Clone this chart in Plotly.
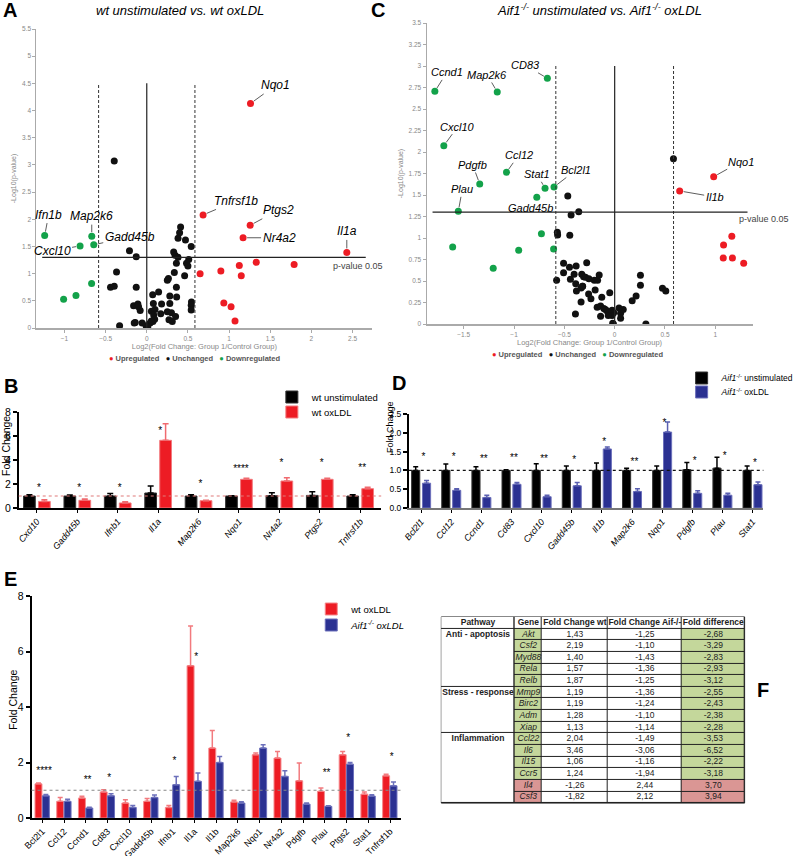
import plotly.graph_objects as go

W, H = 800, 856
FONT = "Arial, 'Liberation Sans', Helvetica, sans-serif"
RED = "#ed1c24"
GREEN = "#13a24a"
BLUE = "#2b3192"
BLACK = "#000000"

# ---------------- Panel A data (volcano wt) ----------------
A_up_genes = ["Nqo1", "Tnfrsf1b", "Ptgs2", "Nr4a2", "Il1a", "", "", "", "", "", "", "", "", ""]
A_up_x = [1.26, 0.684, 1.256, 1.17, 2.43, 0.648, 0.90, 1.124, 1.33, 1.79, 1.148, 0.936, 1.024, 1.072]
A_up_y = [4.13, 2.08, 1.89, 1.66, 1.39, 1.00, 1.05, 1.15, 1.21, 1.17, 0.96, 0.46, 0.39, 0.13]
A_down_genes = ["Ifn1b", "Map2k6", "Cxcl10", "Gadd45b", "", "", ""]
A_down_x = [-1.24, -0.668, -0.81, -0.644, -0.67, -0.86, -1.01]
A_down_y = [1.70, 1.69, 1.51, 1.53, 0.82, 0.60, 0.53]
A_unch_x = [-0.395, 0.411, 0.399, 0.38, 0.47, 0.54, -0.21, -0.128, 0.327, 0.343,
            0.38, 0.51, 0.36, 0.483, 0.50, -0.367, 0.335, 0.46, 0.263, 0.25,
            -0.44, -0.395, -0.128, 0.36, 0.144, 0.072, 0.28, 0.363, -0.16, -0.108,
            -0.10, 0.08, 0.18, 0.28, 0.543, 0.54, 0.54, -0.08, 0.056, 0.10,
            0.25, 0.30, 0.17, 0.084, -0.14, -0.056, 0.04, 0.075, 0.096, 0.056,
            -0.008, 0.012, -0.33, 0.31, 0.27, 0.35, -0.152]
A_unch_y = [3.07, 1.86, 1.75, 1.65, 1.62, 1.50, 1.42, 1.31, 1.40, 1.34,
            1.30, 1.26, 1.19, 1.19, 1.14, 1.03, 1.02, 0.96, 0.91, 0.88,
            0.75, 0.77, 0.75, 0.75, 0.66, 0.61, 0.59, 0.57, 0.41, 0.44,
            0.39, 0.45, 0.44, 0.45, 0.48, 0.42, 0.33, 0.32, 0.31, 0.34,
            0.30, 0.28, 0.26, 0.24, 0.10, 0.09, 0.09, 0.12, 0.16, 0.13,
            0.04, 0.02, 0.04, 0.12, 0.15, 0.21, 0.09]

# ---------------- Panel C data (volcano Aif1-/-) ----------------
C_up_genes = ["Nqo1", "Il1b", "", "", "", "", ""]
C_up_x = [0.984, 0.646, 1.164, 1.082, 1.079, 1.17, 1.282]
C_up_y = [1.713, 1.547, 1.019, 0.919, 0.767, 0.767, 0.705]
C_down_genes = ["Ccnd1", "Map2k6", "CD83", "Cxcl10", "Ccl12", "Pdgfb", "Stat1", "Bcl2l1",
                "Gadd45b", "Plau", "", "", "", "", ""]
C_down_x = [-1.787, -1.167, -0.669, -1.698, -1.075, -1.341, -0.692, -0.603,
            -0.774, -1.554, -0.728, -1.61, -0.954, -0.607, -1.207]
C_down_y = [2.705, 2.698, 2.857, 2.074, 1.764, 1.628, 1.578, 1.593,
            1.473, 1.31, 1.05, 0.895, 0.857, 0.872, 0.647]
C_unch_x = [0.584, -0.466, -0.357, -0.433, -0.57, -0.567, -0.446, -0.577, -0.508, -0.449,
            -0.383, -0.278, -0.508, -0.44, -0.403, -0.327, -0.309, -0.29, -0.256, -0.203,
            -0.17, -0.154, -0.318, -0.38, -0.194, -0.259, -0.236, -0.334, -0.128, -0.049,
            -0.174, -0.14, -0.108, -0.092, -0.075, -0.026, -0.01, -0.026, -0.39, -0.14,
            -0.064, -0.013, 0.059, 0.085, 0.059, 0.174, 0.213, 0.256, 0.256, 0.31,
            0.475, 0.508, -0.387, -0.334, -0.02, 0.043, -0.32]
C_unch_y = [1.922, 1.488, 1.306, 1.267, 1.066, 1.035, 1.031, 0.508, 0.705, 0.66,
            0.674, 0.713, 0.597, 0.52, 0.578, 0.578, 0.55, 0.545, 0.525, 0.51,
            0.51, 0.57, 0.44, 0.384, 0.395, 0.349, 0.294, 0.256, 0.31, 0.364,
            0.194, 0.21, 0.18, 0.17, 0.15, 0.16, 0.13, 0.10, 0.116, 0.09,
            0.10, 0.0, 0.124, 0.17, 0.066, 0.27, 0.326, 0.566, 0.45, 0.0,
            0.415, 0.384, 0.469, 0.419, 0.01, 0.186, 0.44]

PVAL_LINE = 1.3
FC_LINE = 0.585

# ---------------- Panel B data ----------------
B_genes = ["Cxcl10", "Gadd45b", "Ifnb1", "Il1a", "Map2k6", "Nqo1", "Nr4a2", "Ptgs2", "Tnfrsf1b"]
B_unstim = [1.0, 1.0, 1.0, 1.25, 1.0, 1.0, 1.03, 1.05, 1.0]
B_unstim_err = [0.1, 0.08, 0.2, 0.58, 0.1, 0.03, 0.25, 0.31, 0.1]
B_ox = [0.55, 0.64, 0.42, 5.64, 0.61, 2.39, 2.25, 2.39, 1.61]
B_ox_err = [0.13, 0.11, 0.11, 1.39, 0.03, 0.08, 0.28, 0.08, 0.11]
B_sig = ["*", "*", "*", "*", "*", "****", "*", "*", "**"]
B_sig_y = [1.65, 1.65, 1.65, 6.35, 2.0, 3.25, 3.75, 3.75, 3.3]

# ---------------- Panel D data ----------------
D_genes = ["Bcl2l1", "Ccl12", "Ccnd1", "Cd83", "Cxcl10", "Gadd45b", "Il1b", "Map2k6",
           "Nqo1", "Pdgfb", "Plau", "Stat1"]
D_unstim = [1.0, 1.0, 1.0, 1.0, 1.0, 1.0, 1.0, 1.0, 1.0, 1.02, 1.06, 1.0]
D_unstim_err = [0.1, 0.17, 0.1, 0.02, 0.18, 0.12, 0.2, 0.06, 0.12, 0.19, 0.29, 0.12]
D_ox = [0.66, 0.47, 0.28, 0.63, 0.30, 0.59, 1.57, 0.44, 2.02, 0.39, 0.34, 0.62]
D_ox_err = [0.07, 0.04, 0.06, 0.05, 0.04, 0.09, 0.05, 0.07, 0.27, 0.07, 0.05, 0.07]
D_sig = ["*", "*", "**", "**", "**", "*", "*", "**", "*", "*", "*", "*"]
D_sig_y = [1.34, 1.34, 1.29, 1.32, 1.29, 1.27, 1.74, 1.22, 2.25, 1.25, 1.38, 1.18]

# ---------------- Panel E data ----------------
E_genes = ["Bcl2l1", "Ccl12", "Ccnd1", "Cd83", "Cxcl10", "Gadd45b", "Ifnb1", "Il1a", "Il1b",
           "Map2k6", "Nqo1", "Nr4a2", "Pdgfb", "Plau", "Ptgs2", "Stat1", "Tnfrsf1b"]
E_wt = [1.23, 0.6, 0.72, 0.94, 0.54, 0.6, 0.38, 5.49, 2.52, 0.58, 2.28, 2.16, 1.34, 0.96, 2.28, 0.86, 1.52]
E_wt_err = [0.03, 0.14, 0.06, 0.08, 0.12, 0.1, 0.07, 1.43, 0.63, 0.06, 0.06, 0.24, 0.64, 0.12, 0.12, 0.08, 0.06]
E_ko = [0.8, 0.6, 0.36, 0.8, 0.38, 0.74, 1.2, 1.32, 2.0, 0.54, 2.52, 1.5, 0.5, 0.42, 1.94, 0.79, 1.16]
E_ko_err = [0.05, 0.08, 0.03, 0.07, 0.07, 0.09, 0.3, 0.3, 0.22, 0.05, 0.12, 0.2, 0.04, 0.02, 0.06, 0.05, 0.14]
E_sig_genes = ["Bcl2l1", "Ccnd1", "Cd83", "Ifnb1", "Il1a", "Plau", "Ptgs2", "Tnfrsf1b"]
E_sig = ["****", "**", "*", "*", "*", "**", "*", "*"]
E_sig_y = [1.66, 1.36, 1.41, 2.05, 5.77, 1.59, 2.86, 2.19]

# ---------------- Panel F data (table) ----------------
F_header = ["Pathway", "Gene", "Fold Change wt", "Fold Change Aif-/-", "Fold difference"]
F_pathway = ["Anti - apoptosis", "", "", "", "", "Stress - response", "", "", "",
             "Inflammation", "", "", "", "", ""]
F_gene = ["Akt", "Csf2", "Myd88", "Rela", "Relb", "Mmp9", "Birc2", "Adm", "Xiap",
          "Ccl22", "Il6", "Il15", "Ccr5", "Il4", "Csf3"]
F_fc_wt = ["1,43", "2,19", "1,40", "1,57", "1,87", "1,19", "1,19", "1,28", "1,13",
           "2,04", "3,46", "1,06", "1,24", "-1,26", "-1,82"]
F_fc_ko = ["-1,25", "-1,10", "-1,43", "-1,36", "-1,25", "-1,36", "-1,24", "-1,10", "-1,14",
           "-1,49", "-3,06", "-1,16", "-1,94", "2,44", "2,12"]
F_fold_diff = ["-2,68", "-3,29", "-2,83", "-2,93", "-3,12", "-2,55", "-2,43", "-2,38", "-2,28",
               "-3,53", "-6,52", "-2,22", "-3,18", "3,70", "3,94"]
F_col_widths = [75, 28, 67, 76, 64]


def dx(p):
    return p / W


def dy(p):
    return 1 - p / H


fig = go.Figure()
annotations = []
shapes = []


# ---------------- volcano plots ----------------
def add_volcano(xa, ya, up_x, up_y, un_x, un_y, dn_x, dn_y):
    for xs, ys, col in [(un_x, un_y, "#111111"), (up_x, up_y, RED), (dn_x, dn_y, GREEN)]:
        fig.add_trace(go.Scatter(x=xs, y=ys, mode="markers", xaxis=xa, yaxis=ya,
                                 marker=dict(color=col, size=7, line=dict(width=0)),
                                 showlegend=False, hoverinfo="skip"))


add_volcano("x", "y", A_up_x, A_up_y, A_unch_x, A_unch_y, A_down_x, A_down_y)
add_volcano("x2", "y2", C_up_x, C_up_y, C_unch_x, C_unch_y, C_down_x, C_down_y)

A_offsets = {"Nqo1": (25, -18), "Tnfrsf1b": (33, -14), "Ptgs2": (28, -15), "Nr4a2": (36, 0),
             "Il1a": (0, -21), "Ifn1b": (4, -21), "Map2k6": (0, -20), "Cxcl10": (-28, 5),
             "Gadd45b": (36, -8)}
C_offsets = {"Ccnd1": (12, -19), "Map2k6": (-10, -17), "CD83": (-22, -13), "Cxcl10": (14, -19),
             "Pdgfb": (-7, -19), "Ccl12": (12, -17), "Stat1": (-8, -14), "Bcl2l1": (22, -17),
             "Plau": (4, -22), "Gadd45b": (-6, 11), "Nqo1": (27, -15), "Il1b": (35, 6)}


def add_labels(xr, yr, genes, xs, ys, offsets, size):
    for g, x, y in zip(genes, xs, ys):
        if not g:
            continue
        ax, ay = offsets[g]
        annotations.append(dict(x=x, y=y, xref=xr, yref=yr, text="<i>%s</i>" % g,
                                showarrow=True, arrowhead=0, arrowwidth=0.8, arrowcolor="#333",
                                ax=ax, ay=ay, standoff=4, startstandoff=0,
                                font=dict(size=size, color="black", family=FONT)))


add_labels("x", "y", A_up_genes, A_up_x, A_up_y, A_offsets, 12)
add_labels("x", "y", A_down_genes, A_down_x, A_down_y, A_offsets, 12)
add_labels("x2", "y2", C_up_genes, C_up_x, C_up_y, C_offsets, 11)
add_labels("x2", "y2", C_down_genes, C_down_x, C_down_y, C_offsets, 11)


def volcano_lines(xr, yr, vtop, hx0, hx1):
    for xv in (-FC_LINE, FC_LINE):
        shapes.append(dict(type="line", xref=xr, yref=yr, x0=xv, x1=xv, y0=0, y1=vtop,
                           line=dict(color="#333", width=1, dash="3px,2px")))
    shapes.append(dict(type="line", xref=xr, yref=yr, x0=0, x1=0, y0=0, y1=vtop,
                       line=dict(color="#222", width=1.2)))
    shapes.append(dict(type="line", xref=xr, yref=yr, x0=hx0, x1=hx1, y0=PVAL_LINE, y1=PVAL_LINE,
                       line=dict(color="#222", width=1.2)))


volcano_lines("x", "y", 4.5, -1.27, 2.66)
volcano_lines("x2", "y2", 3.0, -1.81, 1.32)


def text_at(x, y, text, size, color="black", angle=0):
    annotations.append(dict(x=dx(x), y=dy(y), xref="paper", yref="paper", text=text,
                            showarrow=False, xanchor="center", yanchor="middle", textangle=angle,
                            font=dict(size=size, color=color, family=FONT)))


text_at(363, 266, "p-value 0.05", 9, "#444")
text_at(776, 219, "p-value 0.05", 9, "#444")

vleg = ("<span style='color:%s'>●</span> Upregulated   <span style='color:#111'>●</span> Unchanged"
        "   <span style='color:%s'>●</span> Downregulated") % (RED, GREEN)
text_at(198, 358, "<b>" + vleg + "</b>", 7.5, "#555")
text_at(587, 355, "<b>" + vleg + "</b>", 7.5, "#555")

# titles
text_at(183, 10, "<i>wt unstimulated vs. wt oxLDL</i>", 13)
text_at(609, 10, "<i>Aif1<sup>-/-</sup> unstimulated vs. Aif1<sup>-/-</sup> oxLDL</i>", 13)

# panel letters
for lab, lx, ly in [("A", 10, 10), ("B", 11, 386), ("C", 384, 10), ("D", 405, 383), ("E", 11, 579),
                    ("F", 775, 690)]:
    text_at(lx, ly, "<b>%s</b>" % lab, 20)

# y-axis titles of bar panels
text_at(6, 446, "Fold Change", 10.5, angle=-90)
text_at(396, 427, "Fold Change", 9, angle=-90)
text_at(13, 700, "Fold Change", 10.5, angle=-90)


# ---------------- bar plots ----------------
def add_bar(xa, ya, genes, v, e, col, ecol, lcol, name, off, width, legend, ecw):
    fig.add_trace(go.Bar(x=list(range(len(genes))), y=v, xaxis=xa, yaxis=ya, name=name,
                         width=width, offset=off,
                         marker=dict(color=col, line=dict(color=lcol, width=1)),
                         error_y=dict(type="data", array=e, arrayminus=[0] * len(e), symmetric=False,
                                      color=ecol, thickness=1.5, width=ecw),
                         legend=legend, hoverinfo="skip"))


add_bar("x3", "y3", B_genes, B_unstim, B_unstim_err, BLACK, BLACK, "#333", "wt unstimulated",
        -0.33, 0.29, "legend", 3)
add_bar("x3", "y3", B_genes, B_ox, B_ox_err, RED, "#f06a6f", "#f27a7e", "wt oxLDL",
        0.04, 0.29, "legend2", 3)
add_bar("x4", "y4", D_genes, D_unstim, D_unstim_err, BLACK, BLACK, "#333",
        "<i>Aif1</i><sup>-/-</sup> unstimulated", -0.315, 0.27, "legend3", 2.5)
add_bar("x4", "y4", D_genes, D_ox, D_ox_err, BLUE, "#5a5fb0", "#6c70bb",
        "<i>Aif1</i><sup>-/-</sup> oxLDL", 0.045, 0.27, "legend4", 2.5)
add_bar("x5", "y5", E_genes, E_wt, E_wt_err, RED, "#f27a7e", "#f5898c", "wt oxLDL",
        -0.34, 0.32, "legend5", 2.5)
add_bar("x5", "y5", E_genes, E_ko, E_ko_err, BLUE, "#6c70bb", "#6c70bb",
        "<i>Aif1<sup>-/-</sup> oxLDL</i>", 0.0, 0.32, "legend6", 2.5)

# significance stars
fig.add_trace(go.Scatter(x=[i + 0.05 for i in range(len(B_genes))], y=B_sig_y, text=B_sig,
                         mode="text", xaxis="x3", yaxis="y3", showlegend=False, hoverinfo="skip",
                         textfont=dict(size=10, color="black", family=FONT)))
fig.add_trace(go.Scatter(x=[i + 0.08 for i in range(len(D_genes))], y=D_sig_y, text=D_sig,
                         mode="text", xaxis="x4", yaxis="y4", showlegend=False, hoverinfo="skip",
                         textfont=dict(size=10, color="black", family=FONT)))
fig.add_trace(go.Scatter(x=[E_genes.index(g) + 0.08 for g in E_sig_genes], y=E_sig_y, text=E_sig,
                         mode="text", xaxis="x5", yaxis="y5", showlegend=False, hoverinfo="skip",
                         textfont=dict(size=10, color="black", family=FONT)))

# reference lines at fold change 1
for xr, yr, col in [("x3 domain", "y3", "#e07a7a"), ("x4 domain", "y4", "#111"), ("x5 domain", "y5", "#888")]:
    shapes.append(dict(type="line", xref=xr, yref=yr, x0=0, x1=1, y0=1, y1=1,
                       line=dict(color=col, width=1.2, dash="dot")))

# ---------------- table (panel F) drawn on its own axes ----------------
n_rows = len(F_gene)
col_edges = [0]
for wdt in F_col_widths:
    col_edges.append(col_edges[-1] + wdt)
col_centers = [(col_edges[i] + col_edges[i + 1]) / 2 for i in range(len(F_col_widths))]

# fill codes: 0 white, 1 green (down), 2 red (up)
z_main = [[0, 0, 0, 0]]
for fd in F_fold_diff:
    code = 1 if fd.startswith("-") else 2
    z_main.append([code, 0, 0, code])
cscale = [[0, "white"], [0.33, "white"], [0.33, "#c4d79b"], [0.67, "#c4d79b"],
          [0.67, "#da9694"], [1, "#da9694"]]
fig.add_trace(go.Heatmap(x=col_edges[1:], y=list(range(n_rows + 2)), z=z_main, zmin=0, zmax=2,
                         colorscale=cscale, showscale=False, xgap=1, ygap=1,
                         xaxis="x6", yaxis="y6", hoverinfo="skip"))
group_edges = [0, 1] + [i + 1 for i, p in enumerate(F_pathway) if p and i > 0] + [n_rows + 1]
fig.add_trace(go.Heatmap(x=col_edges[0:2], y=group_edges, z=[[0]] * (len(group_edges) - 1),
                         zmin=0, zmax=2, colorscale=cscale, showscale=False, xgap=1, ygap=1,
                         xaxis="x6", yaxis="y6", hoverinfo="skip"))
shapes.append(dict(type="rect", xref="x6", yref="y6", x0=0, x1=col_edges[-1], y0=0, y1=n_rows + 1,
                   fillcolor="#222", line=dict(color="#222", width=1), layer="below"))

tx, ty, tt = [], [], []
for c, h in enumerate(F_header):
    tx.append(col_centers[c]); ty.append(0.5); tt.append("<b>%s</b>" % h)
for r in range(n_rows):
    yc = r + 1.5
    if F_pathway[r]:
        tx.append(col_centers[0]); ty.append(yc); tt.append("<b>%s</b>" % F_pathway[r])
    tx.append(col_centers[1]); ty.append(yc); tt.append("<i>%s</i>" % F_gene[r])
    tx.append(col_centers[2]); ty.append(yc); tt.append(F_fc_wt[r])
    tx.append(col_centers[3]); ty.append(yc); tt.append(F_fc_ko[r])
    tx.append(col_centers[4]); ty.append(yc); tt.append(F_fold_diff[r])
fig.add_trace(go.Scatter(x=tx, y=ty, text=tt, mode="text", xaxis="x6", yaxis="y6",
                         showlegend=False, hoverinfo="skip",
                         textfont=dict(size=8.5, color="#222", family=FONT)))

# ---------------- axes ----------------
vol_x = dict(showline=True, linecolor="#aaaaaa", linewidth=2, ticks="outside", ticklen=3,
             tickcolor="#aaa", tickfont=dict(size=6.5, color="#888", family=FONT), showgrid=False,
             zeroline=False, title=dict(text="Log2(Fold Change: Group 1/Control Group)",
                                        font=dict(size=7.5, color="#888", family=FONT), standoff=2),
             automargin=False)
vol_y = dict(showline=True, linecolor="#aaaaaa", linewidth=1, ticks="outside", ticklen=3,
             tickcolor="#aaa", tickfont=dict(size=6.5, color="#888", family=FONT), showgrid=False,
             zeroline=False, title=dict(text="-Log10(p-value)", font=dict(size=7, color="#888", family=FONT),
                                        standoff=4),
             automargin=False)

bar_y = dict(showline=True, linecolor="black", linewidth=1.5, ticks="outside", ticklen=4,
             tickcolor="black", tickwidth=1.5, showgrid=False, zeroline=False, automargin=False)
bar_x = dict(showline=True, linecolor="black", linewidth=1.5, ticks="outside", ticklen=3,
             tickcolor="black", tickwidth=1.2, showgrid=False, zeroline=False, automargin=False)


def bar_legend(x, y, size):
    return dict(x=dx(x), y=dy(y), xanchor="left", yanchor="middle", bgcolor="rgba(0,0,0,0)",
                font=dict(size=size, color="black", family=FONT), itemwidth=30, tracegroupgap=0)


fig.update_layout(
    width=W, height=H, margin=dict(l=0, r=0, t=0, b=0), paper_bgcolor="white", plot_bgcolor="white",
    font=dict(family=FONT), barmode="overlay", showlegend=True,
    xaxis=dict(vol_x, domain=[dx(37), dx(378)], range=[-1.34, 2.74],
               tickvals=[-1, -0.5, 0, 0.5, 1, 1.5, 2, 2.5], anchor="y"),
    yaxis=dict(vol_y, domain=[dy(328), dy(29)], range=[0, 5.5], dtick=0.5, anchor="x"),
    xaxis2=dict(vol_x, domain=[dx(433), dx(764)], range=[-1.87, 1.37],
                tickvals=[-1.5, -1, -0.5, 0, 0.5, 1], anchor="y2"),
    yaxis2=dict(vol_y, domain=[dy(324), dy(23)], range=[0, 3.5], dtick=0.25, anchor="x2"),
    xaxis3=dict(bar_x, domain=[dx(19), dx(387)], range=[-0.45, 8.52], anchor="y3",
                tickvals=list(range(len(B_genes))), ticktext=B_genes, tickangle=-50,
                tickfont=dict(size=9, color="black", family=FONT, style="italic")),
    yaxis3=dict(bar_y, domain=[dy(508), dy(412)], range=[0, 8], dtick=2, anchor="x3",
                tickfont=dict(size=10.5, color="black", family=FONT)),
    xaxis4=dict(bar_x, domain=[dx(415), dx(775)], range=[-0.41, 11.36], anchor="y4",
                linecolor="#777", linewidth=2,
                tickvals=list(range(len(D_genes))), ticktext=D_genes, tickangle=-50,
                tickfont=dict(size=9, color="black", family=FONT, style="italic")),
    yaxis4=dict(bar_y, domain=[dy(508), dy(414)], range=[0, 2.5], dtick=0.5, tickformat=".1f",
                anchor="x4", tickfont=dict(size=8.5, color="black", family=FONT)),
    xaxis5=dict(bar_x, domain=[dx(32), dx(407)], range=[-0.5, 16.5], anchor="y5",
                tickvals=list(range(len(E_genes))), ticktext=E_genes, tickangle=-45,
                tickfont=dict(size=9, color="black", family=FONT)),
    yaxis5=dict(bar_y, domain=[dy(818), dy(596)], range=[0, 8], dtick=2, anchor="x5",
                tickfont=dict(size=10.5, color="black", family=FONT)),
    xaxis6=dict(domain=[dx(447), dx(757)], range=[-1, col_edges[-1] + 1], visible=False,
                anchor="y6", fixedrange=True),
    yaxis6=dict(domain=[dy(804), dy(616)], range=[n_rows + 1.08, -0.08], visible=False,
                anchor="x6", fixedrange=True),
    legend=bar_legend(276, 397, 9.5),
    legend2=bar_legend(276, 412, 9.5),
    legend3=bar_legend(692, 378, 8.5),
    legend4=bar_legend(692, 392, 8.5),
    legend5=bar_legend(316, 609, 9.5),
    legend6=bar_legend(316, 625, 9.5),
    annotations=annotations, shapes=shapes,
)

fig.write_html("out.html", config={"displayModeBar": False},
               post_script="document.body.style.margin='0';")
